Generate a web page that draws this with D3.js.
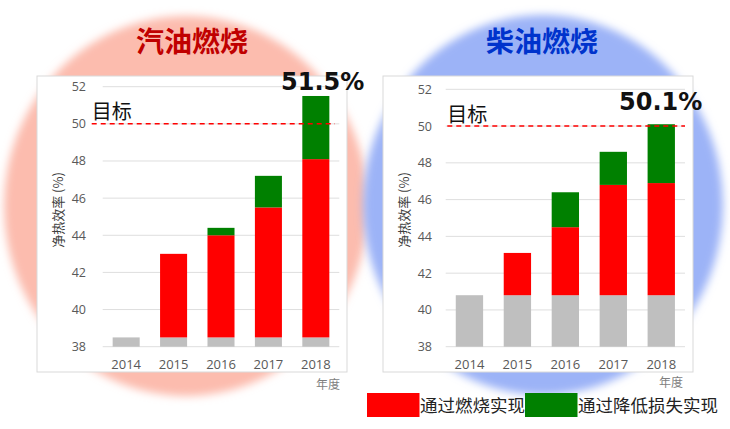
<!DOCTYPE html>
<html>
<head>
<meta charset="utf-8">
<script src="https://cdn.jsdelivr.net/npm/d3@7"></script>
<style>
html,body{margin:0;padding:0;background:#fff;}
svg{display:block;}
</style>
</head>
<body>
<svg id="c" width="730" height="429"></svg>
<script>
// ---- data ----
const years = ["2014", "2015", "2016", "2017", "2018"];
const yTicks = [38, 40, 42, 44, 46, 48, 50, 52];
const target = 50;
const seriesNames = ["基准", "通过燃烧实现", "通过降低损失实现"];
// gasoline
const gasBase = [38.5, 38.5, 38.5, 38.5, 38.5];
const gasCombustion = [0, 4.5, 5.5, 7.0, 9.6];
const gasLoss = [0, 0, 0.4, 1.7, 3.4];
const gasTitle = "汽油燃烧";
const gasLabel = "51.5%";
// diesel
const dieBase = [40.8, 40.8, 40.8, 40.8, 40.8];
const dieCombustion = [0, 2.3, 3.7, 6.0, 6.1];
const dieLoss = [0, 0, 1.9, 1.8, 3.2];
const dieTitle = "柴油燃烧";
const dieLabel = "50.1%";
const yTitle = "净热效率 (%)";
const xTitle = "年度";
const targetText = "目标";

const svg = d3.select("#c");
const defs = svg.append("defs");
defs.append("filter").attr("id", "blur").attr("x", "-10%").attr("y", "-10%").attr("width", "120%").attr("height", "120%")
  .append("feGaussianBlur").attr("stdDeviation", 4);

// background circles
svg.append("ellipse").attr("cx", 186).attr("cy", 206).attr("rx", 182).attr("ry", 190)
  .attr("fill", "#fcbcae").attr("filter", "url(#blur)");
svg.append("ellipse").attr("cx", 543).attr("cy", 205).attr("rx", 180).attr("ry", 190)
  .attr("fill", "#9cb3f7").attr("filter", "url(#blur)");

const colors = ["#bfbfbf", "#ff0000", "#008000"];
const fontLat = "'Open Sans', 'Noto Sans CJK SC', sans-serif";
const fontCJK = "'Noto Sans CJK SC', sans-serif";

function drawChart(cfg) {
  const g = svg.append("g");
  // white chart box
  g.append("rect").attr("x", cfg.box[0]).attr("y", cfg.box[1])
    .attr("width", cfg.box[2] - cfg.box[0]).attr("height", cfg.box[3] - cfg.box[1])
    .attr("fill", "#fff").attr("stroke", "#d9d9d9").attr("stroke-width", 1);

  const x = d3.scaleBand().domain(years).range(cfg.xr).paddingInner(0.43).paddingOuter(0.21);
  const y = d3.scaleLinear().domain([38, 52]).range(cfg.yr);

  // gridlines
  g.append("g").selectAll("line").data(yTicks).join("line")
    .attr("x1", cfg.xr[0]).attr("x2", cfg.xr[1])
    .attr("y1", d => y(d)).attr("y2", d => y(d))
    .attr("stroke", "#dedede").attr("stroke-width", 1);

  // y axis labels
  const yAxis = d3.axisLeft(y).tickValues(yTicks).tickSize(0).tickPadding(0);
  const ya = g.append("g").attr("transform", `translate(${cfg.yLabelX},0)`).call(yAxis);
  ya.select(".domain").remove();
  ya.selectAll("text").attr("font-family", fontLat).attr("font-size", 12.5).attr("fill", "#595959");

  // x axis labels
  const xAxis = d3.axisBottom(x).tickSize(0).tickPadding(0);
  const xa = g.append("g").attr("transform", `translate(0,${cfg.xLabelY})`).call(xAxis);
  xa.select(".domain").remove();
  xa.selectAll("text").attr("font-family", fontLat).attr("font-size", 13).attr("fill", "#595959");

  // stacked bars
  const rows = years.map((yr, i) => ({ year: yr, base: cfg.base[i] - 38, comb: cfg.comb[i], loss: cfg.loss[i] }));
  const stack = d3.stack().keys(["base", "comb", "loss"]);
  const layers = stack(rows);
  g.append("g").selectAll("g").data(layers).join("g")
    .attr("fill", (d, i) => colors[i])
    .selectAll("rect").data(d => d.filter(s => s[1] - s[0] > 0)).join("rect")
    .attr("x", d => x(d.data.year))
    .attr("width", x.bandwidth())
    .attr("y", d => y(38 + d[1]))
    .attr("height", d => y(38 + d[0]) - y(38 + d[1]));

  // target line
  g.append("line").attr("x1", cfg.dashX[0]).attr("x2", cfg.dashX[1])
    .attr("y1", y(target)).attr("y2", y(target))
    .attr("stroke", "#ff0000").attr("stroke-width", 1.5).attr("stroke-dasharray", "5,4");

  g.append("text").attr("x", cfg.dashX[0]).attr("y", y(target) - 4.5)
    .attr("font-family", fontCJK).attr("font-size", 20).attr("fill", "#111").text(targetText);

  // y title
  g.append("text").attr("transform", `translate(${cfg.yTitleX},210) rotate(-90)`)
    .attr("text-anchor", "middle").attr("font-family", fontCJK).attr("font-size", 13).attr("fill", "#404040")
    .text(yTitle);

  // x title
  g.append("text").attr("x", cfg.xTitle[0]).attr("y", cfg.xTitle[1]).attr("text-anchor", "end")
    .attr("font-family", fontCJK).attr("font-size", 12).attr("fill", "#7f7f7f").text(xTitle);

  // value label
  g.append("text").attr("x", cfg.valLabel[0]).attr("y", cfg.valLabel[1])
    .attr("font-family", "'DejaVu Sans', sans-serif").attr("font-weight", "bold").attr("font-size", 24)
    .attr("fill", "#111").text(cfg.label);

  // chart title
  g.append("text").attr("x", cfg.titleX).attr("y", 52).attr("text-anchor", "middle")
    .attr("font-family", fontCJK).attr("font-weight", "bold").attr("font-size", 28)
    .attr("fill", cfg.titleColor).text(cfg.title);
}

drawChart({
  box: [37, 76, 347, 372], xr: [102.7, 339.3], yr: [346.7, 86.7],
  yLabelX: 86, xLabelY: 360, dashX: [91.7, 335], yTitleX: 63,
  xTitle: [340, 389], valLabel: [281, 90],
  base: gasBase, comb: gasCombustion, loss: gasLoss,
  label: gasLabel, title: gasTitle, titleX: 192, titleColor: "#c00000"
});
drawChart({
  box: [383, 76, 693, 372], xr: [445.7, 685], yr: [346.7, 89.3],
  yLabelX: 432, xLabelY: 360, dashX: [447.3, 685], yTitleX: 409,
  xTitle: [683, 387], valLabel: [619, 110],
  base: dieBase, comb: dieCombustion, loss: dieLoss,
  label: dieLabel, title: dieTitle, titleX: 542, titleColor: "#0033cc"
});

// legend
const legend = svg.append("g");
const legItems = [
  { name: seriesNames[1], color: colors[1], x: 367, tx: 420 },
  { name: seriesNames[2], color: colors[2], x: 525, tx: 578 }
];
legend.selectAll("rect").data(legItems).join("rect")
  .attr("x", d => d.x).attr("y", 393).attr("width", 52.5).attr("height", 24)
  .attr("fill", d => d.color);
legend.selectAll("text").data(legItems).join("text")
  .attr("x", d => d.tx).attr("y", 412)
  .attr("font-family", fontCJK).attr("font-size", 17.5).attr("fill", "#222")
  .text(d => d.name);
</script>
</body>
</html>
